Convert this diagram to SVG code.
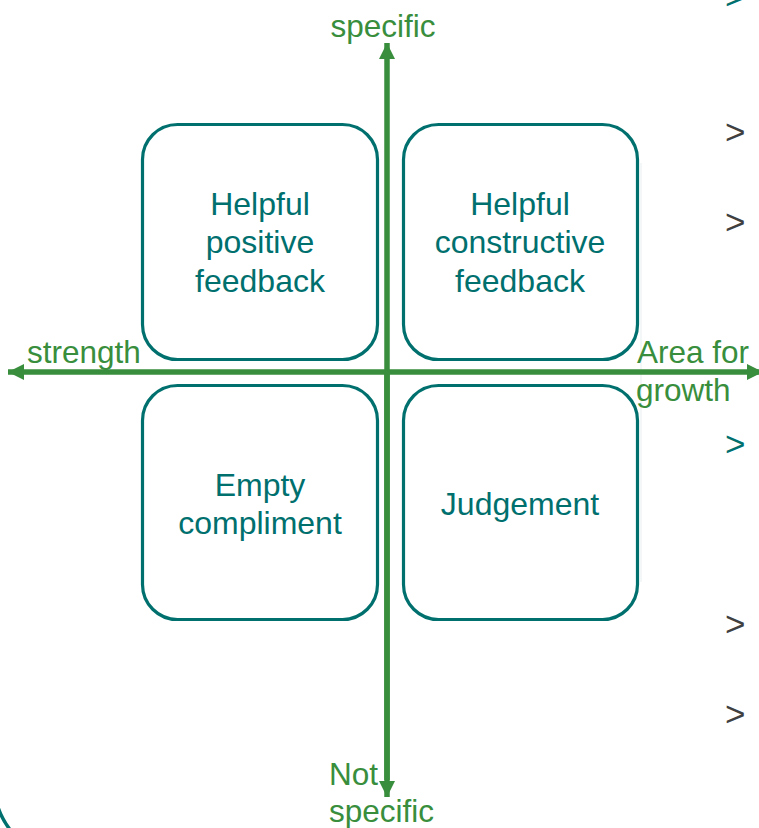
<svg xmlns="http://www.w3.org/2000/svg" width="759" height="828" viewBox="0 0 759 828">
  <defs>
    <style>
      .box { fill: #ffffff; stroke: #00706e; stroke-width: 3.2; }
      .btxt { font-family: "Liberation Sans", Arial, sans-serif; font-size: 32px; fill: #00706e; text-anchor: middle; }
      .ltxt { font-family: "Liberation Sans", Arial, sans-serif; font-size: 31.5px; fill: #388e3c; }
      .axis { stroke: #388e3c; stroke-width: 5.5; fill: none; }
      .chev { font-family: "Liberation Sans", Arial, sans-serif; font-size: 35px; fill: #404040; }
      .chev.teal { fill: #00706e; }
    </style>
    <marker id="ah" markerUnits="userSpaceOnUse" markerWidth="18" markerHeight="18" refX="16" refY="8" orient="auto">
      <path d="M0,0 L16,8 L0,16 Z" fill="#388e3c"/>
    </marker>
  </defs>
  <rect x="0" y="0" width="759" height="828" fill="#ffffff"/>

  <g id="background">
    <line x1="641" y1="163" x2="641" y2="582" stroke="#e8efef" stroke-width="1"/>
    <path d="M -3 804 Q 1 818 11 831" fill="none" stroke="#00706e" stroke-width="3.5"/>
    <text class="chev teal" x="725" y="9">&gt;</text>
    <text class="chev" x="725" y="144">&gt;</text>
    <text class="chev" x="725" y="234">&gt;</text>
    <text class="chev teal" x="725" y="456">&gt;</text>
    <text class="chev" x="725" y="636">&gt;</text>
    <text class="chev" x="725" y="726">&gt;</text>
  </g>

  <g id="connectors">
    <line class="axis" x1="387" y1="780" x2="387" y2="43" marker-end="url(#ah)"/>
    <line class="axis" x1="387" y1="372" x2="387" y2="797" marker-end="url(#ah)"/>
    <line class="axis" x1="387" y1="372" x2="8" y2="372" marker-end="url(#ah)"/>
    <line class="axis" x1="387" y1="372" x2="763" y2="372" marker-end="url(#ah)"/>
  </g>

  <g id="axis-labels">
    <text class="ltxt" x="383" y="37" text-anchor="middle">specific</text>
    <text class="ltxt" x="27" y="363">strength</text>
    <text class="ltxt" x="637" y="363">Area for</text>
    <text class="ltxt" x="636" y="401">growth</text>
    <text class="ltxt" x="329" y="785">Not</text>
    <text class="ltxt" x="329" y="822">specific</text>
  </g>

  <g id="node-helpful-positive">
    <rect class="box" x="142.5" y="124.5" width="235" height="235" rx="35"/>
    <text class="btxt" x="260" y="215">Helpful</text>
    <text class="btxt" x="260" y="253">positive</text>
    <text class="btxt" x="260" y="292">feedback</text>
  </g>

  <g id="node-helpful-constructive">
    <rect class="box" x="403.5" y="124.5" width="234" height="235" rx="35"/>
    <text class="btxt" x="520" y="215">Helpful</text>
    <text class="btxt" x="520" y="253">constructive</text>
    <text class="btxt" x="520" y="292">feedback</text>
  </g>

  <g id="node-empty-compliment">
    <rect class="box" x="142.5" y="385.5" width="235" height="234" rx="35"/>
    <text class="btxt" x="260" y="496">Empty</text>
    <text class="btxt" x="260" y="534">compliment</text>
  </g>

  <g id="node-judgement">
    <rect class="box" x="403.5" y="385.5" width="234" height="234" rx="35"/>
    <text class="btxt" x="520" y="515">Judgement</text>
  </g>
</svg>
